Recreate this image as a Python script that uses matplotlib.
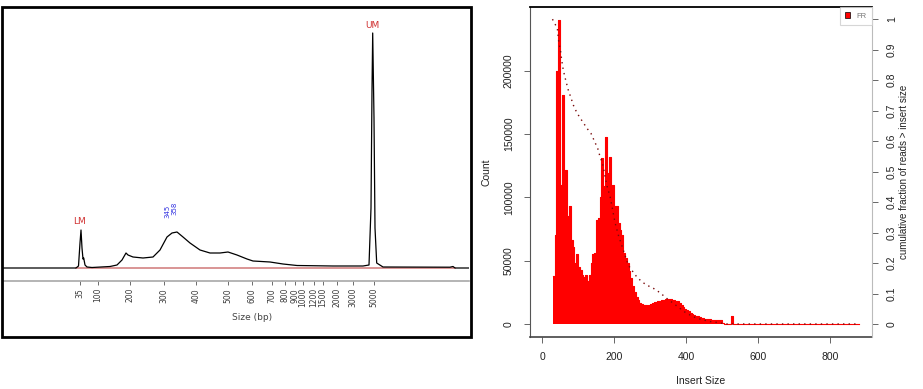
import numpy as np
import matplotlib
matplotlib.use('Agg')
import matplotlib.pyplot as plt
from matplotlib.patches import Patch, Rectangle

plt.rcParams['font.family'] = ['Liberation Sans', 'DejaVu Sans']

# ---- left panel: electropherogram (migration time vs fluorescence) ----
ladder_bp = [35, 100, 200, 300, 400, 500, 600, 700, 800, 900, 1000, 1200, 1500, 2000, 3000, 5000]
ladder_time = [77, 94.7, 127, 161, 193, 225, 248.7, 268.7, 282, 292, 300, 311, 320, 334, 350, 371]

trace_time = [0, 73, 75.5, 77, 78, 79, 80, 80.7, 82, 84, 89, 107, 114, 119, 123, 125, 130, 140,
              150, 157, 164, 169, 174, 180, 187, 197, 207, 217, 225, 234, 244, 250, 267, 280,
              294, 330, 360, 366, 368, 369, 369.7, 371, 372, 373.7, 380, 447, 450, 452, 466]
trace_fu = [0, 0, 2, 25, 38, 20, 9, 10, 3, 1, 0.5, 1.5, 3, 8, 15, 13, 11, 10,
            11, 18, 31, 35, 36, 31, 25, 18, 15, 15, 16, 13, 9, 7, 6, 4,
            2.5, 2, 2, 3, 60, 178, 235, 150, 40, 5, 1, 0.8, 1.5, 0, 0]

# ---- right panel: insert size histogram ----
bin_start = list(range(30, 880, 5))
counts = [38000, 70000, 200000, 240000, 110000, 181000, 85000, 122000, 85000, 93000,
          66000, 61000, 48000, 55000, 45000, 43000, 39000, 37000, 39000, 34000,
          39000, 48000, 55000, 56000, 82000, 84000, 100000, 131000, 109000, 148000,
          119000, 132000, 92000, 110000, 93000, 93000, 80000, 74000, 70000, 56000,
          52000, 48000, 42000, 36000, 30000, 25000, 21000, 19000, 16600, 16000,
          15000, 14800, 14500, 15000, 16000, 16500, 17000, 17500, 18000, 18500,
          19000, 19200, 19500, 19500, 19500, 19400, 19200, 19000, 18500, 18000,
          16500, 15000, 13500, 12000, 11000, 10000, 9000, 8000, 7500, 6500,
          6000, 5500, 5000, 4500, 4200, 4000, 3800, 3600, 3400, 3300,
          3200, 3200, 3100, 3000,
          # tail 500..875
          600, 250, 150, 120, 100, 6300, 150, 120, 110, 100,
          100, 90, 90, 80, 80, 70, 70, 60, 60, 60,
          50, 50, 50, 40, 40, 40, 40, 30, 30, 30,
          30, 30, 30, 20, 20, 20, 20, 20, 20, 20,
          20, 20, 20, 20, 20, 20, 20, 20, 20, 20,
          20, 20, 20, 20, 20, 20, 20, 20, 20, 20,
          20, 20, 20, 20, 20, 20, 20, 20, 20, 20,
          20, 20, 20, 20, 20, 20]

cum_size = [29, 42.5, 47, 51, 54.6, 59, 65.7, 73, 79.5, 87, 94, 101, 108, 126, 136, 142,
            154.5, 161, 168, 175, 181, 189, 196, 202.5, 211.7, 221, 230, 239.5, 248.7,
            262.6, 276.5, 290, 309, 327, 346, 364, 383, 401, 429, 466, 494, 505, 880]
cum_frac = [1.0, 0.97, 0.92, 0.90, 0.866, 0.833, 0.80, 0.767, 0.745, 0.718, 0.70, 0.685,
            0.672, 0.64, 0.625, 0.609, 0.576, 0.549, 0.527, 0.483, 0.45, 0.417, 0.374,
            0.333, 0.292, 0.259, 0.226, 0.193, 0.177, 0.155, 0.139, 0.128, 0.117, 0.103,
            0.084, 0.068, 0.051, 0.035, 0.019, 0.008, 0.004, 0.0, 0.0]

W, H = 923, 389
fig = plt.figure(figsize=(W / 100, H / 100), dpi=100)

# left panel
axL = fig.add_axes([3 / W, 1 - 281 / H, 466 / W, 273 / H])
axL.set_xlim(0, 466)
axL.set_ylim(-13, 260)
for s in ['top', 'left', 'right']:
    axL.spines[s].set_visible(False)
axL.spines['bottom'].set_color('#a8a8a8')
axL.spines['bottom'].set_linewidth(1.2)
axL.set_yticks([])
axL.set_xticks(ladder_time)
axL.set_xticklabels([str(b) for b in ladder_bp], rotation=90, fontsize=5.5,
                    color='#3a3a3a', family='DejaVu Sans')
axL.tick_params(axis='x', length=3, width=0.6, color='#555', pad=2)
axL.plot([73, 452], [0, 0], color='#d07878', lw=1.1, zorder=1)
axL.plot(trace_time, trace_fu, color='black', lw=0.9, zorder=2)
axL.text(77, 47, 'LM', color='#d03030', ha='center', va='center', fontsize=6.5,
         family='DejaVu Sans')
axL.text(369, 243, 'UM', color='#d03030', ha='center', va='center', fontsize=6.5,
         family='DejaVu Sans')
axL.text(164, 57, '345', color='#3030e0', rotation=90, ha='center', va='center', fontsize=5,
         family='DejaVu Sans')
axL.text(171.5, 60, '358', color='#3030e0', rotation=90, ha='center', va='center', fontsize=5,
         family='DejaVu Sans')
fig.text(252 / W, 1 - 318 / H, 'Size (bp)', ha='center', va='center', fontsize=6.5,
         color='#444', family='DejaVu Sans')
fig.add_artist(Rectangle((1.5 / W, 1 - 336.5 / H), 469 / W, 329.5 / H, fill=False,
                         edgecolor='black', lw=2, transform=fig.transFigure))

# right panel
axR = fig.add_axes([529.5 / W, 1 - 336.5 / H, 342.5 / W, 329.5 / H])
axR.bar(bin_start, counts, width=5, align='edge', color='red', linewidth=0)
axR.step(bin_start + [880], counts + [counts[-1]], where='post', color='red', lw=0.8)
axR.set_xlim(-34.7, 915.4)
axR.set_ylim(-9875, 250400)
axR.set_xticks([0, 200, 400, 600, 800])
axR.set_yticks([0, 50000, 100000, 150000, 200000])
axR.set_yticklabels(['0', '50000', '100000', '150000', '200000'], rotation=90, va='center')
axR.tick_params(axis='both', labelsize=7.5, length=4.3, width=0.7, color='#666', pad=7,
                labelcolor='#222')
axR.spines['top'].set_color('black')
axR.spines['top'].set_linewidth(1.3)
axR.spines['left'].set_color('#555')
axR.spines['bottom'].set_color('#444')
axR.spines['bottom'].set_linewidth(1.2)
axR.spines['right'].set_visible(False)
axR.text(-0.127, 0.5, 'Count', transform=axR.transAxes, rotation=90, ha='center',
         va='center', fontsize=7.5, color='#222')
axR.text(0.5007, -0.135, 'Insert Size', transform=axR.transAxes, ha='center',
         va='center', fontsize=7.5, color='#222')

axR2 = axR.twinx()
axR2.set_ylim(-0.041, 1.040)
axR2.plot(cum_size, cum_frac, color='#7a0a0a', lw=1, linestyle=(0, (1, 3)))
for s in ['top', 'left', 'bottom']:
    axR2.spines[s].set_visible(False)
axR2.spines['right'].set_color('#bbbbbb')
axR2.set_yticks([0, 0.1, 0.2, 0.3, 0.4, 0.5, 0.6, 0.7, 0.8, 0.9, 1.0])
axR2.set_yticklabels(['0', '0.1', '0.2', '0.3', '0.4', '0.5', '0.6', '0.7', '0.8', '0.9', '1'],
                     rotation=90, va='center')
axR2.tick_params(axis='y', labelsize=7.5, length=4.3, width=0.7, color='#666', pad=6.5,
                 labelcolor='#222')
axR2.text(1.0934, 0.5, 'cumulative fraction of reads > insert size', transform=axR2.transAxes,
          rotation=90, ha='center', va='center', fontsize=7, color='#222')
leg = axR2.legend([Patch(facecolor='red', edgecolor='black', lw=0.5)], ['FR'],
                  loc='upper right', fontsize=5.5, frameon=True, fancybox=False,
                  edgecolor='#cccccc', borderaxespad=0, handlelength=0.7, handleheight=0.7,
                  borderpad=0.7, handletextpad=0.8, labelcolor='#777')
leg.get_frame().set_linewidth(0.8)

fig.savefig('out.png', dpi=100)
